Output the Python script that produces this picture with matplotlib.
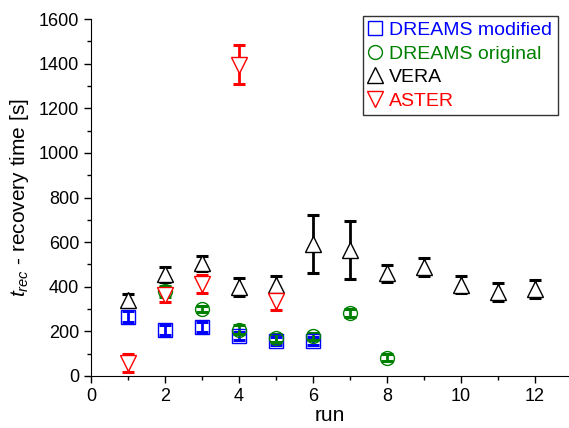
import matplotlib
matplotlib.use("Agg")
import matplotlib.pyplot as plt

# data
dm_run = [1, 2, 3, 4, 5, 6]
dm_val = [265, 205, 220, 180, 158, 155]
dm_err = [25, 22, 22, 18, 18, 18]

do_run = [2, 3, 4, 5, 6, 7, 8]
do_val = [380, 300, 208, 172, 178, 282, 82]
do_err = [25, 15, 20, 18, 15, 18, 15]

vera_run = [1, 2, 3, 4, 5, 6, 7, 8, 9, 10, 11, 12]
vera_val = [340, 455, 505, 400, 410, 590, 565, 460, 490, 410, 375, 390]
vera_err = [28, 35, 35, 40, 38, 130, 128, 38, 40, 40, 40, 42]

aster_run = [1, 2, 3, 4, 5]
aster_val = [60, 362, 412, 1395, 335]
aster_err = [40, 32, 40, 88, 38]

labels = ["DREAMS modified", "DREAMS original", "VERA", "ASTER"]

#_____________________________________________________________________________
def main():

    plt.rcParams["font.family"] = ["Liberation Sans", "DejaVu Sans"]
    plt.rcParams["mathtext.fontset"] = "custom"
    plt.rcParams["mathtext.rm"] = "Liberation Sans"
    plt.rcParams["mathtext.it"] = "Liberation Sans:italic"

    fig = plt.figure(figsize=(5.69, 4.28), dpi=100)
    ax = fig.add_axes([0.16, 0.1215, 0.84, 0.834])

    series = [
        (dm_run, dm_val, dm_err, "s", "#0000ff", 9.5, "none"),
        (do_run, do_val, do_err, "o", "#008000", 10, "none"),
        (vera_run, vera_val, vera_err, "^", "black", 12, "white"),
        (aster_run, aster_val, aster_err, "v", "#ff0000", 12, "white"),
    ]

    handles = []
    for (x, y, e, mk, col, ms, mfc), lab in zip(series, labels):
        ax.errorbar(x, y, yerr=e, fmt="none", ecolor=col, elinewidth=2,
                    capsize=4.3, capthick=2.2, zorder=2)
        h, = ax.plot(x, y, ls="none", marker=mk, ms=ms, mfc=mfc, mec=col,
                     mew=1.0, zorder=3, label=lab)
        handles.append(h)

    ax.set_xlim(0, 12.92)
    ax.set_ylim(0, 1600)
    ax.set_xticks(range(0, 13, 2))
    ax.set_xticks(range(1, 13, 2), minor=True)
    ax.set_yticks(range(0, 1601, 200))
    ax.set_yticks(range(100, 1600, 200), minor=True)
    ax.tick_params(which="both", direction="out", labelsize=13, width=1)
    ax.tick_params(which="major", length=5)
    ax.tick_params(which="minor", length=3)

    ax.spines["top"].set_visible(False)
    ax.spines["right"].set_visible(False)

    ax.set_xlabel("run", fontsize=15, labelpad=1)
    ax.set_ylabel(r"$t_{rec}$ - recovery time [s]", fontsize=15, labelpad=6)

    leg = ax.legend(handles=handles, loc="upper right",
                    bbox_to_anchor=(0.981, 0.963),
                    bbox_transform=fig.transFigure, fontsize=14,
                    fancybox=False, frameon=True, edgecolor="black",
                    handlelength=0.6, handletextpad=0.45, labelspacing=0.3,
                    borderpad=0.3, borderaxespad=0)
    leg.get_frame().set_linewidth(1.0)
    for t, (_, _, _, _, col, _, _) in zip(leg.get_texts(), series):
        t.set_color(col)

    fig.savefig("out.png", dpi=100)
    plt.close()

#main

#_____________________________________________________________________________
if __name__ == "__main__":

    main()
